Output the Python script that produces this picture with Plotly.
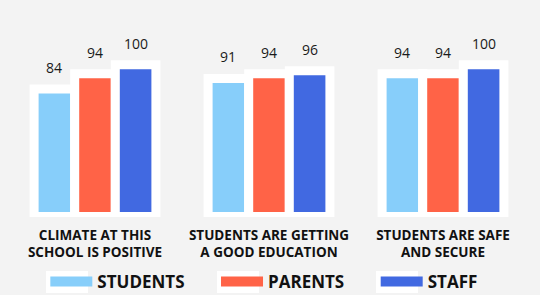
import plotly.graph_objects as go

categories = ["CLIMATE AT THIS<br>SCHOOL IS POSITIVE",
              "STUDENTS ARE GETTING<br>A GOOD EDUCATION",
              "STUDENTS ARE SAFE<br>AND SECURE"]
series_names = ["STUDENTS", "PARENTS", "STAFF"]
students = [84, 91, 94]
parents = [94, 94, 94]
staff = [100, 96, 100]
colors = ["#87CEFA", "#FF6347", "#4169E1"]

series_values = [students, parents, staff]
BG = "#f3f3f3"

fig = go.Figure()
for name, vals, col in zip(series_names, series_values, colors):
    fig.add_trace(go.Bar(
        x=categories, y=vals, name=name, showlegend=False,
        marker=dict(color=col, line=dict(color="white", width=9)),
        hoverinfo="skip",
    ))
# legend swatches as thick lines
PAD = "\u00a0" * 6
for name, col in zip(series_names, colors):
    fig.add_trace(go.Scatter(
        x=[None], y=[None], mode="lines", name=name + PAD,
        line=dict(color=col, width=12), showlegend=True,
    ))

# value labels
offsets = [-40.7, 0, 40.7]
for vals, off in zip(series_values, offsets):
    for c, v in zip(categories, vals):
        fig.add_annotation(x=c, y=v, text=str(v), showarrow=False,
                           xshift=off, yshift=10, yanchor="bottom",
                           font=dict(family="Open Sans", size=14, color="#1a1a1a"))

# white frames behind legend swatches (pixel positions -> paper coords)
PL, PW, PB, PH = 8, 522, 217, 197
def px_x(p):
    return (p - PL) / PW
def px_y(p):
    return (PB - p) / PH
for left in [46, 217, 376]:
    fig.add_shape(type="rect", xref="paper", yref="paper",
                  x0=px_x(left), x1=px_x(left + 42), y0=px_y(293), y1=px_y(271),
                  fillcolor="white", line=dict(width=0), layer="below")

fig.update_layout(
    width=540, height=295,
    margin=dict(l=8, r=10, t=20, b=78, autoexpand=False),
    paper_bgcolor=BG, plot_bgcolor=BG,
    barmode="group", bargap=0.3, bargroupgap=0,
    showlegend=True,
    legend=dict(orientation="h", x=0.0715, xanchor="left",
                yref="container", y=0.044, yanchor="middle",
                font=dict(family="Open Sans", size=17, color="#111111", weight="bold"),
                itemwidth=42, bgcolor="rgba(0,0,0,0)"),
    xaxis=dict(showgrid=False, zeroline=False, showline=False, ticks="",
               ticklabelstandoff=8, automargin=False,
               tickfont=dict(family="Open Sans", size=13.5, color="#111111", weight="bold")),
    yaxis=dict(range=[-0.33, 129.5], visible=False, showgrid=False, zeroline=False),
    font=dict(family="Open Sans"),
)
fig.write_html("out.html", config={"displayModeBar": False},
               post_script="document.body.style.margin='0';document.body.style.background='#f3f3f3';")
